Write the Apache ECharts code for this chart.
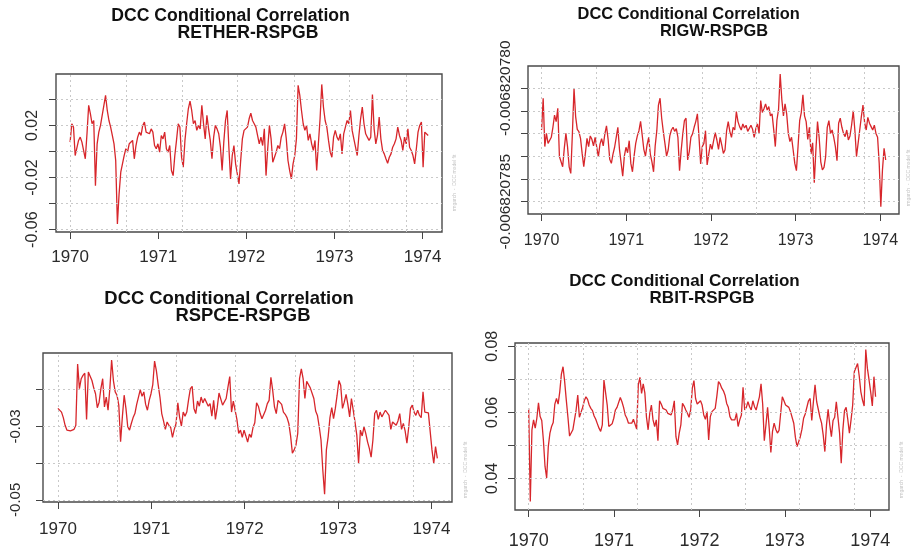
<!DOCTYPE html>
<html>
<head>
<meta charset="utf-8">
<script src="https://cdn.jsdelivr.net/npm/echarts@6/dist/echarts.min.js"></script>
<style>
  html, body { margin: 0; padding: 0; background: #fff; }
  #chart { width: 912px; height: 551px; }
</style>
</head>
<body>
<div id="chart"></div>
<script>
// weekly observations, first one at the start of 1970 (decimal years)
var START = 1970.0;
var STEP = 7 / 365.25;

var rether = [
  0.0072, 0.0213, 0.0187, -0.0031, -0.0018, 0.0085, 0.0110, 0.0072, 0.0085, -0.0056,
  0.0136, 0.0354, 0.0290, 0.0213, 0.0238, -0.0262, 0.0059, 0.0149, 0.0200, 0.0213,
  0.0354, 0.0431, 0.0315, 0.0238, 0.0187, 0.0123, 0.0059, -0.0069, -0.0556, -0.0326,
  -0.0159, -0.0095, -0.0031, 0.0021, -0.0005, 0.0059, 0.0046, 0.0085, -0.0056, 0.0046,
  0.0110, 0.0149, 0.0123, 0.0200, 0.0226, 0.0149, 0.0162, 0.0136, 0.0174, 0.0149,
  0.0046, 0.0021, 0.0059, -0.0005, 0.0123, 0.0097, 0.0149, 0.0021, -0.0005, 0.0046,
  -0.0146, -0.0185, -0.0031, 0.0085, 0.0213, 0.0187, -0.0044, -0.0121, 0.0085, 0.0213,
  0.0328, 0.0387, 0.0315, 0.0213, 0.0238, 0.0162, 0.0200, 0.0174, 0.0354, 0.0213,
  0.0097, 0.0277, 0.0174, 0.0085, -0.0056, 0.0110, 0.0200, 0.0174, 0.0136, 0.0033,
  -0.0146, 0.0072, 0.0238, 0.0315, 0.0033, -0.0210, -0.0031, 0.0046, -0.0095, -0.0172,
  -0.0249, -0.0069, 0.0097, 0.0162, 0.0174, 0.0187, 0.0251, 0.0295, 0.0238, 0.0213,
  0.0187, 0.0200, 0.0059, 0.0110, 0.0046, 0.0174, -0.0185, 0.0021, 0.0200, 0.0097,
  -0.0082, -0.0044, -0.0005, 0.0046, 0.0021, 0.0110, 0.0149, 0.0213, 0.0097, -0.0069,
  -0.0146, -0.0210, -0.0095, -0.0031, 0.0097, 0.0508, 0.0431, 0.0315, 0.0213, 0.0162,
  0.0200, 0.0085, 0.0136, 0.0059, 0.0008, 0.0085, -0.0146, 0.0059, 0.0251, 0.0515,
  0.0341, 0.0238, 0.0187, 0.0085, -0.0005, -0.0044, 0.0110, 0.0162, 0.0110, 0.0085,
  0.0136, -0.0018, 0.0136, 0.0187, 0.0238, 0.0213, 0.0315, 0.0162, 0.0097, 0.0033,
  -0.0031, 0.0123, 0.0251, 0.0341, 0.0213, 0.0136, 0.0110, 0.0085, 0.0110, 0.0438,
  0.0174, 0.0059, 0.0123, 0.0264, 0.0097, 0.0008, -0.0018, -0.0056, -0.0090, -0.0044,
  -0.0018, 0.0033, 0.0059, 0.0097, 0.0187, 0.0123, 0.0085, 0.0008, 0.0110, 0.0059,
  0.0174, 0.0033, 0.0008, -0.0031, -0.0095, 0.0021, 0.0149, 0.0200, 0.0226, -0.0121,
  0.0149, 0.0162, 0.0123
];

// RIGW-RSPGB moves only in the 9th decimal: values are kept as
// steps of 1e-9 away from RIGW_BASE
var RIGW_BASE = -0.006820780;
var rigw = [
  -1.84, -0.44, -2.57, -1.99, -2.43, -2.50, -2.16, -1.72, -1.18, -1.47,
  -0.88, -3.01, -2.94, -3.46, -2.65, -1.99, -2.57, -3.46, -3.75, -1.99,
  0.00, -1.25, -1.81, -1.91, -2.21, -2.87, -3.46, -2.87, -2.21, -2.57,
  -2.10, -2.25, -2.54, -2.16, -2.60, -3.01, -2.46, -2.22, -2.54, -2.01,
  -1.66, -2.25, -3.13, -3.31, -2.90, -2.60, -2.16, -1.72, -2.69, -2.72,
  -3.87, -2.99, -2.60, -2.84, -2.31, -3.31, -3.68, -2.99, -2.43, -2.10,
  -1.87, -1.46, -2.06, -2.69, -2.99, -2.49, -2.16, -2.90, -3.24, -3.68,
  -2.54, -1.87, -0.74, -0.44, -1.32, -1.91, -2.43, -2.99, -2.72, -2.10,
  -1.84, -1.72, -1.90, -1.78, -2.16, -3.63, -2.75, -2.01, -1.43, -1.32,
  -3.16, -2.79, -2.16, -2.01, -1.72, -1.47, -1.13, -2.16, -3.34, -2.57,
  -2.43, -1.87, -3.38, -2.90, -2.46, -2.69, -2.31, -1.96, -2.28, -2.69,
  -2.16, -2.50, -2.87, -2.72, -1.87, -1.47, -1.91, -2.16, -1.72, -1.84,
  -1.03, -1.47, -1.69, -1.84, -1.57, -1.75, -1.63, -1.90, -1.84, -1.63,
  -1.81, -2.16, -1.78, -1.57, -1.99, -0.54, -1.07, -0.90, -0.69, -0.96,
  -0.81, -1.22, -1.13, -1.81, -2.57, -1.40, -0.93, 0.63, -0.49, -1.22,
  -0.69, -1.13, -1.99, -2.35, -2.16, -2.72, -3.31, -3.63, -2.57, -1.43,
  -1.07, -0.29, -1.22, -1.47, -2.25, -1.72, -2.90, -2.40, -4.16, -2.72,
  -1.47, -2.16, -3.24, -3.60, -3.49, -3.01, -1.72, -1.43, -1.99, -1.84,
  -2.16, -2.57, -3.19, -1.54, -1.32, -1.72, -1.99, -2.13, -1.84, -2.28,
  -2.10, -1.62, -0.99, -1.84, -3.01, -2.43, -1.84, -1.25, -0.74, -1.51,
  -1.84, -1.28, -1.54, -1.69, -1.84, -1.63, -1.99, -2.16, -3.31, -5.22,
  -3.60, -2.65, -3.16
];

var rspce = [
  -0.0251, -0.0256, -0.0261, -0.0276, -0.0297, -0.0310, -0.0314, -0.0312, -0.0317, -0.0308,
  -0.0297, -0.0130, -0.0197, -0.0170, -0.0161, -0.0155, -0.0281, -0.0152, -0.0157, -0.0175,
  -0.0195, -0.0211, -0.0249, -0.0234, -0.0197, -0.0170, -0.0247, -0.0220, -0.0256, -0.0197,
  -0.0119, -0.0175, -0.0206, -0.0215, -0.0242, -0.0342, -0.0274, -0.0215, -0.0251, -0.0301,
  -0.0310, -0.0292, -0.0276, -0.0265, -0.0240, -0.0220, -0.0200, -0.0218, -0.0206, -0.0240,
  -0.0256, -0.0229, -0.0211, -0.0186, -0.0122, -0.0148, -0.0186, -0.0220, -0.0265, -0.0285,
  -0.0308, -0.0288, -0.0297, -0.0303, -0.0330, -0.0308, -0.0292, -0.0236, -0.0276, -0.0299,
  -0.0261, -0.0272, -0.0261, -0.0227, -0.0197, -0.0191, -0.0251, -0.0265, -0.0231, -0.0245,
  -0.0220, -0.0236, -0.0224, -0.0220, -0.0245, -0.0238, -0.0272, -0.0229, -0.0281, -0.0249,
  -0.0209, -0.0211, -0.0242, -0.0245, -0.0224, -0.0193, -0.0164, -0.0261, -0.0231, -0.0234,
  -0.0281, -0.0319, -0.0310, -0.0330, -0.0310, -0.0326, -0.0343, -0.0321, -0.0330, -0.0303,
  -0.0290, -0.0236, -0.0245, -0.0265, -0.0279, -0.0274, -0.0256, -0.0238, -0.0229, -0.0166,
  -0.0202, -0.0247, -0.0265, -0.0229, -0.0224, -0.0240, -0.0261, -0.0267, -0.0276, -0.0292,
  -0.0326, -0.0373, -0.0364, -0.0351, -0.0319, -0.0170, -0.0143, -0.0170, -0.0224, -0.0177,
  -0.0173, -0.0195, -0.0191, -0.0224, -0.0258, -0.0270, -0.0301, -0.0337, -0.0419, -0.0485,
  -0.0364, -0.0328, -0.0276, -0.0249, -0.0279, -0.0251, -0.0215, -0.0175, -0.0188, -0.0251,
  -0.0234, -0.0213, -0.0240, -0.0274, -0.0224, -0.0220, -0.0288, -0.0324, -0.0401, -0.0310,
  -0.0326, -0.0301, -0.0319, -0.0342, -0.0360, -0.0384, -0.0337, -0.0265, -0.0256, -0.0281,
  -0.0261, -0.0274, -0.0265, -0.0256, -0.0258, -0.0270, -0.0308, -0.0288, -0.0285, -0.0297,
  -0.0285, -0.0265, -0.0308, -0.0292, -0.0312, -0.0346, -0.0303, -0.0251, -0.0242, -0.0261,
  -0.0270, -0.0256, -0.0270, -0.0276, -0.0206, -0.0261, -0.0256, -0.0263, -0.0265, -0.0364,
  -0.0401, -0.0355, -0.0387
];

var rbit = [
  0.0612, 0.0330, 0.0547, 0.0577, 0.0552, 0.0582, 0.0629, 0.0587, 0.0575, 0.0516,
  0.0436, 0.0401, 0.0496, 0.0537, 0.0557, 0.0569, 0.0625, 0.0642, 0.0625, 0.0662,
  0.0716, 0.0738, 0.0693, 0.0637, 0.0585, 0.0528, 0.0524, 0.0547, 0.0577, 0.0607,
  0.0652, 0.0585, 0.0585, 0.0615, 0.0635, 0.0647, 0.0639, 0.0622, 0.0612, 0.0605,
  0.0589, 0.0579, 0.0565, 0.0552, 0.0542, 0.0562, 0.0698, 0.0698, 0.0622, 0.0557,
  0.0552, 0.0565, 0.0582, 0.0607, 0.0615, 0.0612, 0.0645, 0.0632, 0.0615, 0.0592,
  0.0582, 0.0567, 0.0561, 0.0567, 0.0579, 0.0585, 0.0549, 0.0683, 0.0706, 0.0657,
  0.0686, 0.0659, 0.0585, 0.0547, 0.0597, 0.0622, 0.0577, 0.0557, 0.0577, 0.0514,
  0.0635, 0.0625, 0.0612, 0.0617, 0.0607, 0.0597, 0.0602, 0.0592, 0.0607, 0.0635,
  0.0526, 0.0501, 0.0537, 0.0562, 0.0627, 0.0619, 0.0607, 0.0597, 0.0585, 0.0607,
  0.0673, 0.0696, 0.0642, 0.0625, 0.0619, 0.0635, 0.0622, 0.0592, 0.0579, 0.0602,
  0.0516, 0.0587, 0.0602, 0.0597, 0.0612, 0.0649, 0.0693, 0.0686, 0.0673, 0.0665,
  0.0652, 0.0627, 0.0615, 0.0587, 0.0577, 0.0582, 0.0577, 0.0597, 0.0557, 0.0577,
  0.0592, 0.0676, 0.0607, 0.0615, 0.0632, 0.0617, 0.0607, 0.0635, 0.0617, 0.0607,
  0.0627, 0.0647, 0.0686, 0.0625, 0.0514, 0.0562, 0.0615, 0.0552, 0.0478, 0.0542,
  0.0567, 0.0549, 0.0537, 0.0545, 0.0597, 0.0647, 0.0635, 0.0622, 0.0617, 0.0615,
  0.0602, 0.0602, 0.0567, 0.0524, 0.0496, 0.0501, 0.0526, 0.0549, 0.0582, 0.0595,
  0.0592, 0.0635, 0.0642, 0.0575, 0.0632, 0.0683, 0.0632, 0.0632, 0.0585, 0.0567,
  0.0531, 0.0481, 0.0562, 0.0609, 0.0562, 0.0526, 0.0575, 0.0585, 0.0632, 0.0585,
  0.0537, 0.0446, 0.0547, 0.0605, 0.0615, 0.0579, 0.0537, 0.0577, 0.0622, 0.0723,
  0.0718, 0.0748, 0.0710, 0.0662, 0.0637, 0.0619, 0.0790, 0.0733, 0.0698, 0.0662,
  0.0619, 0.0708, 0.0647
];

var yearTicks = [1970, 1971, 1972, 1973, 1974];
// dotted vertical grid lines (not on the year ticks)
var vGrid = [1970, 1970.64, 1971.27, 1971.90, 1972.54, 1973.17, 1973.81];

var retherTicks = [-0.06, -0.04, -0.02, 0, 0.02, 0.04];
var retherLabels = [-0.06, -0.02, 0.02];
var rigwTicks = [-5, -4, -3, -2, -1, 0];
var rigwLabels = [-5, 0];
var rspceTicks = [-0.05, -0.04, -0.03, -0.02];
var rspceLabels = [-0.05, -0.03];
var rbitTicks = [0.04, 0.05, 0.06, 0.07, 0.08];
var rbitLabels = [0.04, 0.06, 0.08];

var FONT = "'Liberation Sans', Arial, Helvetica, sans-serif";
var LINE_COLOR = '#d7262b';

function fmt2(v) { return String(+(+v).toFixed(2)); }

var panels = [
  { data: rether, pair: 'RETHER-RSPGB', ticks: retherTicks, labels: retherLabels, fmt: fmt2,
    grid: { left: 56, top: 74, width: 386, height: 158 }, yMin: -0.0618, yMax: 0.0595,
    xFont: 17, xMargin: 17, yFont: 16, yMargin: 15,
    t1: [230.6, 16.5], t2: [248, 33.5], tSize: 17.6, mark: [455, 183] },
  { data: rigw, pair: 'RIGW-RSPGB', ticks: rigwTicks, labels: rigwLabels,
    fmt: function (v) { return (RIGW_BASE + v * 1e-9).toFixed(9); },
    grid: { left: 528, top: 66, width: 371, height: 148 }, yMin: -5.54, yMax: 0.98,
    xFont: 16, xMargin: 19, yFont: 15.5, yMargin: 14,
    t1: [688.7, 14.5], t2: [714, 31.5], tSize: 16.4, mark: [909, 178] },
  { data: rspce, pair: 'RSPCE-RSPGB', ticks: rspceTicks, labels: rspceLabels, fmt: fmt2,
    grid: { left: 43, top: 353, width: 409, height: 149 }, yMin: -0.0506, yMax: -0.0100,
    xFont: 17, xMargin: 19, yFont: 15, yMargin: 20,
    t1: [229, 298.5], t2: [243, 316], tSize: 18.4, mark: [466, 470] },
  { data: rbit, pair: 'RBIT-RSPGB', ticks: rbitTicks, labels: rbitLabels, fmt: fmt2,
    grid: { left: 515, top: 343, width: 374, height: 167 }, yMin: 0.0304, yMax: 0.0810,
    xFont: 18, xMargin: 22, yFont: 16, yMargin: 14,
    t1: [684.5, 281.5], t2: [702, 298.5], tSize: 17, mark: [902, 470] }
];

var grids = [], xAxes = [], yAxes = [], series = [], graphics = [];

panels.forEach(function (p, i) {
  grids.push({
    left: p.grid.left, top: p.grid.top, width: p.grid.width, height: p.grid.height,
    show: true, borderColor: '#4a4a4a', borderWidth: 1.4, backgroundColor: 'transparent',
    containLabel: false
  });
  xAxes.push({
    type: 'value', gridIndex: i, min: 1969.84, max: 1974.22, position: 'bottom',
    axisLine: { show: false, onZero: false },
    splitLine: { show: false },
    axisTick: { show: true, customValues: yearTicks, length: 7, lineStyle: { color: '#444', width: 1 } },
    axisLabel: {
      customValues: yearTicks, fontSize: p.xFont, fontFamily: FONT, color: '#2b2b2b',
      margin: p.xMargin, formatter: function (v) { return String(Math.round(v)); }
    }
  });
  yAxes.push({
    type: 'value', gridIndex: i, min: p.yMin, max: p.yMax, position: 'left',
    axisLine: { show: false, onZero: false },
    splitLine: { show: false },
    axisTick: { show: true, customValues: p.ticks, length: 7, lineStyle: { color: '#444', width: 1 } },
    axisLabel: {
      customValues: p.labels, rotate: 90, fontSize: p.yFont, fontFamily: FONT, color: '#2b2b2b',
      margin: p.yMargin, formatter: p.fmt
    }
  });

  // dotted grid drawn underneath the series
  series.push({
    type: 'line', xAxisIndex: i, yAxisIndex: i, data: [], silent: true, z: 1,
    markLine: {
      silent: true, symbol: ['none', 'none'], label: { show: false }, animation: false,
      lineStyle: { color: '#c9c9c9', type: [2, 3], width: 1 },
      emphasis: { disabled: true },
      data: vGrid.map(function (x) { return { xAxis: x }; })
        .concat(p.ticks.map(function (y) { return { yAxis: y }; }))
    }
  });
  series.push({
    type: 'line', name: p.pair, xAxisIndex: i, yAxisIndex: i, z: 3,
    data: p.data.map(function (v, k) { return [START + k * STEP, v]; }),
    showSymbol: false, symbol: 'none', silent: true,
    lineStyle: { color: LINE_COLOR, width: 1.3 }
  });

  graphics.push({
    type: 'text', x: p.t1[0], y: p.t1[1], silent: true,
    style: { text: 'DCC Conditional Correlation', fill: '#111', fontSize: p.tSize, fontWeight: 'bold',
      fontFamily: FONT, align: 'center', verticalAlign: 'middle', textAlign: 'center', textVerticalAlign: 'middle' }
  });
  graphics.push({
    type: 'text', x: p.t2[0], y: p.t2[1], silent: true,
    style: { text: p.pair, fill: '#111', fontSize: p.tSize, fontWeight: 'bold',
      fontFamily: FONT, align: 'center', verticalAlign: 'middle', textAlign: 'center', textVerticalAlign: 'middle' }
  });
  graphics.push({
    type: 'text', x: p.mark[0], y: p.mark[1], rotation: Math.PI / 2, silent: true,
    style: { text: 'rmgarch  -  DCC model fit', fill: '#c4c4c4', fontSize: 5, fontFamily: FONT,
      align: 'center', verticalAlign: 'middle', textAlign: 'center', textVerticalAlign: 'middle' }
  });
});

var chart = echarts.init(document.getElementById('chart'), null, { renderer: 'canvas' });
chart.setOption({
  animation: false,
  backgroundColor: '#ffffff',
  grid: grids,
  xAxis: xAxes,
  yAxis: yAxes,
  series: series,
  graphic: graphics
});
</script>
</body>
</html>
